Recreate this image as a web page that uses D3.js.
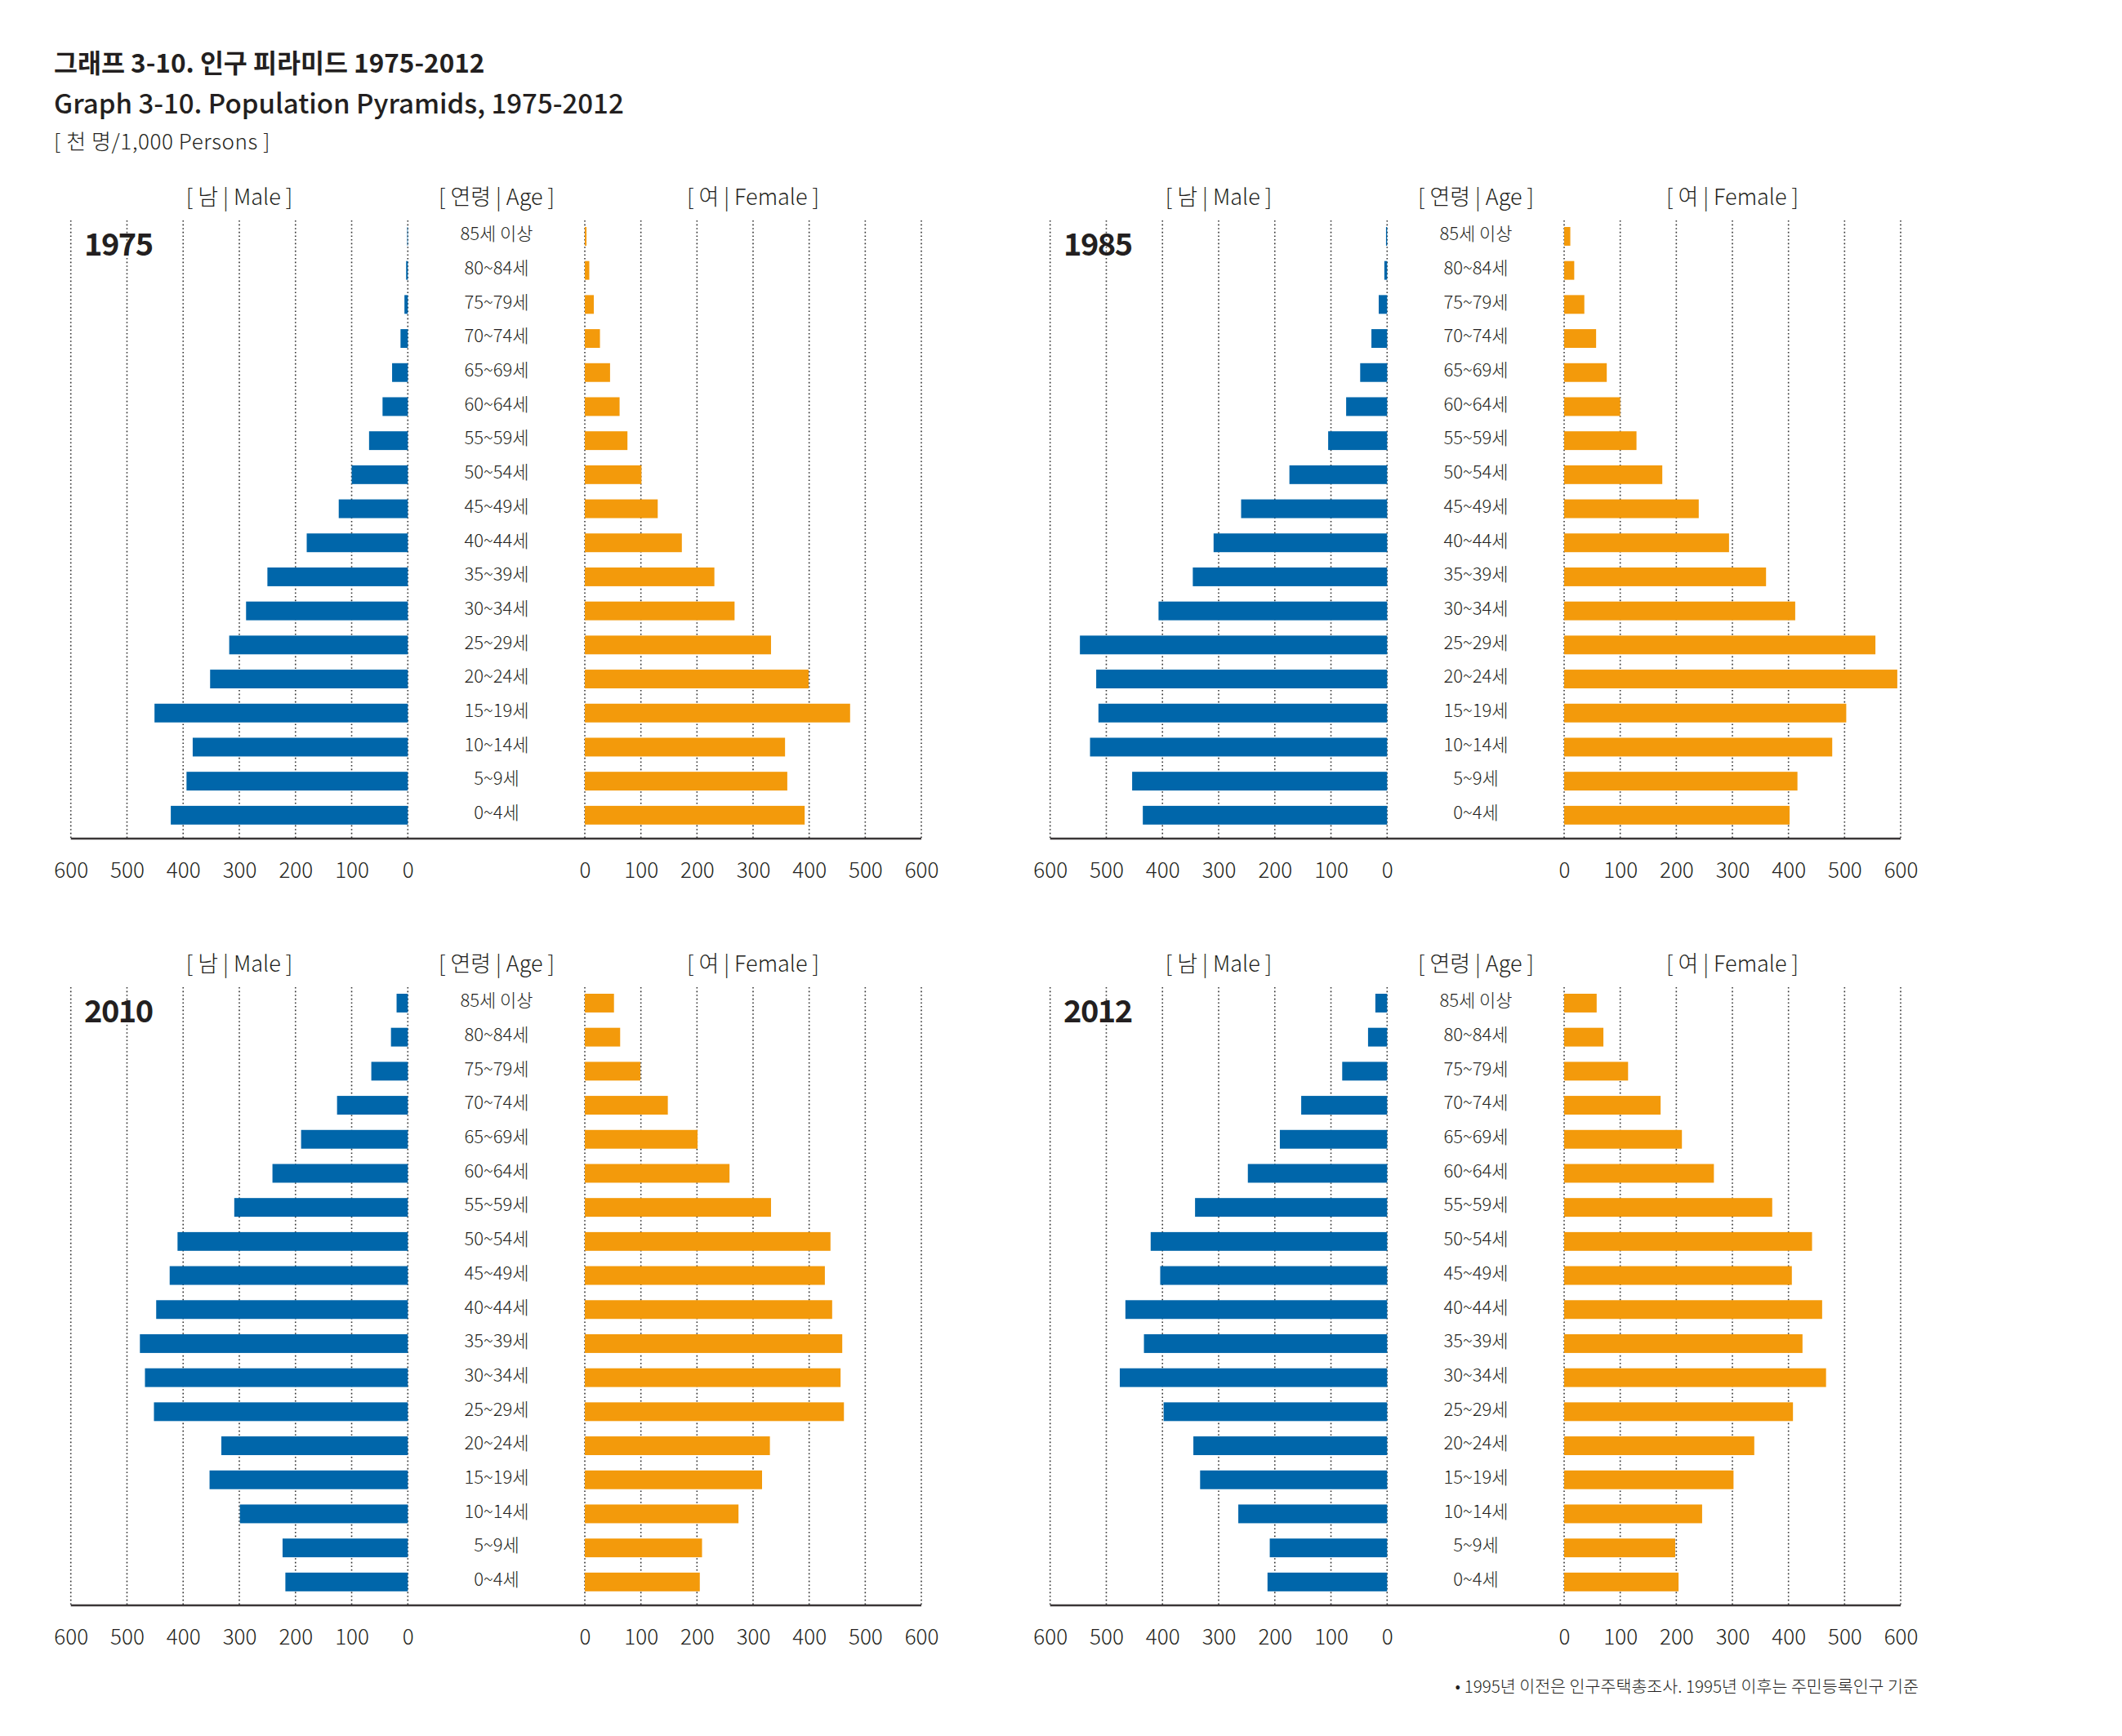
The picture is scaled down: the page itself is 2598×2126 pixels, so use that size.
<!DOCTYPE html>
<html>
<head>
<meta charset="utf-8">
<script src="https://cdn.jsdelivr.net/npm/d3@7"></script>
<style>
  html, body { margin: 0; padding: 0; background: #ffffff; }
  svg { display: block; }
  text { font-family: "Noto Sans CJK KR", "Noto Sans", sans-serif; fill: #231f20; }
</style>
</head>
<body>
<svg id="chart" width="2598" height="2126"></svg>
<script>
// ---------- DATA (thousand persons) ----------
const ages = ["85세 이상","80~84세","75~79세","70~74세","65~69세","60~64세","55~59세","50~54세","45~49세","40~44세","35~39세","30~34세","25~29세","20~24세","15~19세","10~14세","5~9세","0~4세"];
const years = ["1975", "1985", "2010", "2012"];
const male1975   = [1, 3, 6, 13, 28, 45, 69, 100, 123, 180, 250, 288, 318, 352, 451, 383, 394, 422];
const female1975 = [3, 8, 16, 27, 45, 62, 76, 101, 130, 173, 231, 267, 332, 399, 473, 357, 361, 392];
const male1985   = [2, 5, 15, 28, 48, 73, 105, 174, 260, 309, 346, 407, 547, 518, 514, 529, 454, 435];
const female1985 = [11, 18, 36, 57, 76, 100, 129, 175, 240, 294, 360, 412, 555, 594, 503, 478, 416, 402];
const male2010   = [20, 30, 65, 126, 190, 241, 309, 410, 424, 448, 477, 468, 452, 332, 353, 299, 223, 218];
const female2010 = [52, 63, 99, 148, 201, 258, 332, 438, 428, 441, 459, 456, 462, 330, 316, 274, 209, 205];
const male2012   = [21, 34, 80, 153, 191, 248, 342, 421, 404, 466, 433, 476, 398, 345, 333, 265, 209, 213];
const female2012 = [58, 70, 114, 172, 210, 267, 371, 442, 406, 460, 425, 467, 408, 339, 302, 246, 198, 204];
const tickValues = [0, 100, 200, 300, 400, 500, 600];
const titleKo = "그래프 3-10. 인구 피라미드 1975-2012";
const titleEn = "Graph 3-10. Population Pyramids, 1975-2012";
const unitText = "[ 천 명/1,000 Persons ]";
const maleHeader = "[ 남 | Male ]";
const ageHeader = "[ 연령 | Age ]";
const femaleHeader = "[ 여 | Female ]";
const footnote = "• 1995년 이전은 인구주택총조사. 1995년 이후는 주민등록인구 기준";

const panels = [
  {year: years[0], male: male1975, female: female1975},
  {year: years[1], male: male1985, female: female1985},
  {year: years[2], male: male2010, female: female2010},
  {year: years[3], male: male2012, female: female2012}
];

// ---------- STYLE / LAYOUT ----------
const BLUE = "#0066aa";
const ORANGE = "#f39a0b";
const TEXT = "#231f20";
const panelDX = 1199, panelDY = 939;

const svg = d3.select("#chart");

// Titles
svg.append("text").attr("x", 66).attr("y", 89).attr("font-size", 31.5).attr("font-weight", 700).text(titleKo);
svg.append("text").attr("x", 66).attr("y", 139).attr("font-size", 33).attr("font-weight", 500).text(titleEn);
svg.append("text").attr("x", 66).attr("y", 183).attr("font-size", 26).attr("font-weight", 300)
  .attr("letter-spacing", 0.6).text(unitText);
svg.append("text").attr("x", 2349).attr("y", 2073).attr("text-anchor", "end").attr("font-size", 20.6).attr("font-weight", 300).text(footnote);

// Scales (panel-local)
const xMale = d3.scaleLinear().domain([0, 600]).range([499.3, 86.7]);
const xFemale = d3.scaleLinear().domain([0, 600]).range([716, 1128]);
const y = d3.scaleBand().domain(ages).range([268.6, 1019.2]).paddingInner(0.45).paddingOuter(0.225);
const ageX = 608;
const gridTop = 270, axisY = 1027;

panels.forEach((p, i) => {
  const g = svg.append("g")
    .attr("transform", `translate(${(i % 2) * panelDX},${Math.floor(i / 2) * panelDY})`);

  // Headers
  g.append("text").attr("x", (xMale(0) + xMale(600)) / 2).attr("y", 242).attr("dy", "0.35em")
    .attr("text-anchor", "middle").attr("font-size", 27).attr("font-weight", 300).text(maleHeader);
  g.append("text").attr("x", ageX).attr("y", 242).attr("dy", "0.35em")
    .attr("text-anchor", "middle").attr("font-size", 27).attr("font-weight", 300).text(ageHeader);
  g.append("text").attr("x", (xFemale(0) + xFemale(600)) / 2).attr("y", 242).attr("dy", "0.35em")
    .attr("text-anchor", "middle").attr("font-size", 27).attr("font-weight", 300).text(femaleHeader);

  // Gridlines
  const grid = g.append("g").attr("class", "grid");
  [xMale, xFemale].forEach(sc => {
    grid.selectAll(null).data(tickValues).enter().append("line")
      .attr("x1", d => sc(d)).attr("x2", d => sc(d))
      .attr("y1", gridTop).attr("y2", axisY)
      .attr("stroke", "#333").attr("stroke-width", 1.6)
      .attr("stroke-dasharray", "1.6,3");
  });

  // Year label
  g.append("text").attr("x", 103).attr("y", 313).attr("font-size", 38).attr("font-weight", 700)
    .attr("letter-spacing", -1.5).text(p.year);

  // Bars
  g.selectAll(".m").data(p.male).enter().append("rect")
    .attr("x", d => xMale(d)).attr("width", d => xMale(0) - xMale(d))
    .attr("y", (d, j) => y(ages[j])).attr("height", y.bandwidth())
    .attr("fill", BLUE);
  g.selectAll(".f").data(p.female).enter().append("rect")
    .attr("x", xFemale(0)).attr("width", d => xFemale(d) - xFemale(0))
    .attr("y", (d, j) => y(ages[j])).attr("height", y.bandwidth())
    .attr("fill", ORANGE);

  // Age labels
  g.selectAll(".age").data(ages).enter().append("text")
    .attr("x", ageX).attr("y", d => y(d) + y.bandwidth() / 2).attr("dy", "0.22em")
    .attr("text-anchor", "middle").attr("font-size", 22).attr("font-weight", 300)
    .text(d => d);

  // Axis baseline
  g.append("line").attr("x1", xMale(600)).attr("x2", xFemale(600))
    .attr("y1", axisY).attr("y2", axisY)
    .attr("stroke", "#3a3637").attr("stroke-width", 2.6);

  // Tick labels via d3 axes
  [xMale, xFemale].forEach(sc => {
    const ax = g.append("g").attr("transform", `translate(0,${axisY})`)
      .call(d3.axisBottom(sc).tickValues(tickValues).tickSize(0).tickPadding(0).tickFormat(d3.format("d")));
    ax.select(".domain").remove();
    ax.selectAll("text")
      .attr("y", 39).attr("dy", "0.35em")
      .attr("font-size", 26).attr("font-weight", 300)
      .style("font-family", "\"Noto Sans CJK KR\", \"Noto Sans\", sans-serif")
      .attr("fill", TEXT);
  });
});
</script>
</body>
</html>
